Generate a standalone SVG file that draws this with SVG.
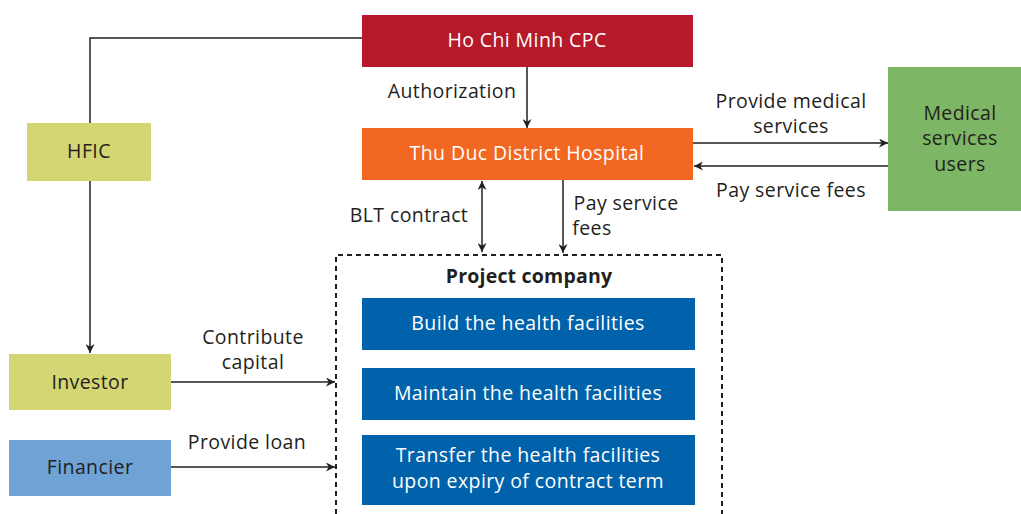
<svg xmlns="http://www.w3.org/2000/svg" width="1021" height="514" viewBox="0 0 1021 514">
<defs>
<style>
text{font-family:"Open Sans","Noto Sans",sans-serif;font-size:19.5px;letter-spacing:0.4px;fill:#231F20;text-anchor:middle}
.w{fill:#fff}
.b{font-weight:bold;letter-spacing:0.2px}
.l{stroke:#231F20;stroke-width:1.5;fill:none}
.dash{stroke:#231F20;stroke-width:2;fill:none;stroke-dasharray:5 4}
</style>
<marker id="ah" viewBox="0 0 10 10" refX="10" refY="5" markerWidth="9" markerHeight="9" markerUnits="userSpaceOnUse" orient="auto-start-reverse">
<path d="M0,0 L10,5 L0,10 L3,5 Z" fill="#231F20"/>
</marker>
</defs>
<rect width="1021" height="514" fill="#fff"/>
<g id="connectors">
<path class="l" d="M362,38 H90 V353" marker-end="url(#ah)"/>
<path class="l" d="M527,67 V128" marker-end="url(#ah)"/>
<path class="l" d="M482,181 V252" marker-start="url(#ah)" marker-end="url(#ah)"/>
<path class="l" d="M563,180 V253" marker-end="url(#ah)"/>
<path class="l" d="M693,143 H888" marker-end="url(#ah)"/>
<path class="l" d="M888,166 H694" marker-end="url(#ah)"/>
<path class="l" d="M170,382 H335" marker-end="url(#ah)"/>
<path class="l" d="M170,467 H335" marker-end="url(#ah)"/>
<text x="452" y="98">Authorization</text>
<text x="409" y="222">BLT contract</text>
<text x="626" y="210">Pay service</text>
<text x="592" y="235">fees</text>
<text x="791" y="108">Provide medical</text>
<text x="791" y="133">services</text>
<text x="791" y="197">Pay service fees</text>
<text x="253" y="344">Contribute</text>
<text x="253" y="369">capital</text>
<text x="247" y="449">Provide loan</text>
</g>
<g id="hfic">
<rect x="27" y="123" width="124" height="58" fill="#D3D672"/>
<text x="89" y="158">HFIC</text>
</g>
<g id="hcmcpc">
<rect x="362" y="15" width="331" height="52" fill="#B5192A"/>
<text class="w" x="527" y="47">Ho Chi Minh CPC</text>
</g>
<g id="hospital">
<rect x="362" y="128" width="331" height="52" fill="#F26722"/>
<text class="w" x="527" y="160">Thu Duc District Hospital</text>
</g>
<g id="users">
<rect x="888" y="67" width="133" height="144" fill="#7DB664"/>
<text x="960" y="120">Medical</text>
<text x="960" y="145">services</text>
<text x="960" y="171">users</text>
</g>
<g id="project-company">
<path class="dash" d="M336,514 V255 H722 V514"/>
<text class="b" x="529" y="283">Project company</text>
</g>
<g id="build">
<rect x="362" y="298" width="333" height="52" fill="#0062AA"/>
<text class="w" x="528" y="330">Build the health facilities</text>
</g>
<g id="maintain">
<rect x="362" y="368" width="333" height="52" fill="#0062AA"/>
<text class="w" x="528" y="400">Maintain the health facilities</text>
</g>
<g id="transfer">
<rect x="362" y="435" width="333" height="70" fill="#0062AA"/>
<text class="w" x="528" y="462">Transfer the health facilities</text>
<text class="w" x="528" y="488">upon expiry of contract term</text>
</g>
<g id="investor">
<rect x="9" y="354" width="162" height="56" fill="#D3D672"/>
<text x="90" y="389">Investor</text>
</g>
<g id="financier">
<rect x="9" y="440" width="162" height="56" fill="#6FA3D6"/>
<text x="90" y="474">Financier</text>
</g>
</svg>
